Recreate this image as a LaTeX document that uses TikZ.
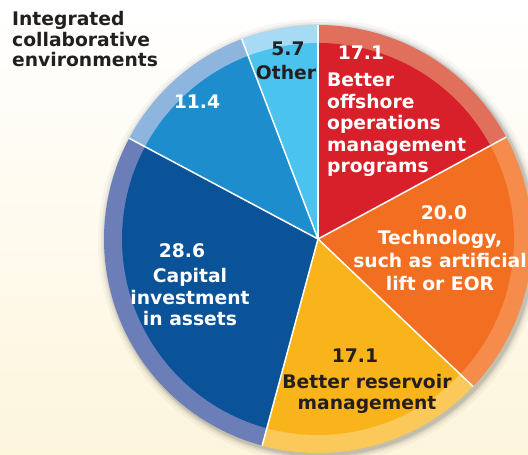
\documentclass[tikz,border=0pt]{standalone}
\usepackage{fontspec}
\setmainfont{DejaVu Sans}
\usetikzlibrary{positioning}

\definecolor{redin}{HTML}{D7202A}
\definecolor{redout}{HTML}{E06F5B}
\definecolor{orgin}{HTML}{F26F22}
\definecolor{orgout}{HTML}{F58C4C}
\definecolor{ylwin}{HTML}{F8B41A}
\definecolor{ylwout}{HTML}{FBC95A}
\definecolor{dbluin}{HTML}{0B5399}
\definecolor{dbluout}{HTML}{6C7EB8}
\definecolor{mbluin}{HTML}{1E8DCD}
\definecolor{mbluout}{HTML}{8DB5DE}
\definecolor{lbluin}{HTML}{4AC3EF}
\definecolor{lbluout}{HTML}{A7DAF5}
\definecolor{ink}{HTML}{231F20}
\definecolor{cream}{HTML}{FDF5DC}

% one slice: start, end, inner colour, ring colour
\newcommand{\pieslice}[4]{%
  \fill[#4] (c) -- (#1:214bp) arc[start angle=#1, end angle=#2, radius=214bp] -- cycle;
  \fill[#3] (c) -- (#1:196bp) arc[start angle=#1, end angle=#2, radius=196bp] -- cycle;}

\tikzset{
  lbl/.style={font=\bfseries\fontsize{18.8}{21.5}\selectfont, inner sep=0pt, align=center},
  lblw/.style={lbl, text=white},
  lbld/.style={lbl, text=ink},
  sep/.style={draw=white, line width=1.5bp}
}

\begin{document}
\begin{tikzpicture}[x=1bp, y=1bp]
 % page
  \shade[top color=white, bottom color=cream] (-318,-216) rectangle (210,239);
  \useasboundingbox (-318,-216) rectangle (210,239);
  \coordinate (c) at (0,0);
 % shadow
  \foreach \r/\o in {222/.03, 219/.05, 217/.07, 215.5/.09}
    \fill[black, opacity=\o] (2,-2) circle (\r);
 % slices
  \pieslice{90}{28.44}{redin}{redout}
  \pieslice{28.44}{-43.56}{orgin}{orgout}
  \pieslice{-43.56}{-105.12}{ylwin}{ylwout}
  \pieslice{-105.12}{-208.08}{dbluin}{dbluout}
  \pieslice{-208.08}{-249.12}{mbluin}{mbluout}
  \pieslice{-249.12}{-270}{lbluin}{lbluout}
 % rim points
  \foreach \a [count=\i] in {90, 28.44, -43.56, -105.12, -208.08, -249.12}
    \coordinate (r\i) at (\a:214);
  \foreach \i in {1,...,6}
    \path[sep] (c) edge (r\i);
 % labels
  \node (title) at (-306,228) [anchor=north west, lbld, align=left,
    font=\bfseries\fontsize{18.8}{20.8}\selectfont]
    {Integrated\\collaborative\\environments};
  \node (v1) at (43,186) [lblw] {17.1};
  \node (t1) at (9,166) [anchor=north west, lblw, align=left]
    {Better\\offshore\\operations\\management\\programs};
  \node (v2) at (126,26) [lblw] {20.0};
  \node (t2) [below=10bp of v2.south, xshift=-4bp, lblw,
    font=\bfseries\fontsize{18.8}{23}\selectfont]
    {Technology,\\such as artificial\\lift or EOR};
  \node (v3) at (37,-117) [lbld] {17.1};
  \node (t3) [below=11bp of v3.south, xshift=12bp, lbld]
    {Better reservoir\\management};
  \node (v4) at (-136,-12) [lblw] {28.6};
  \node (t4) [below=10bp of v4.south, xshift=8bp, lblw]
    {Capital\\investment\\in assets};
  \node (v5) at (-121,137) [lblw] {11.4};
  \node (v6) at (-30,190) [lbld] {5.7};
  \node (t6) [below=9bp of v6.south, xshift=-2bp, lbld] {Other};
\end{tikzpicture}
\end{document}
